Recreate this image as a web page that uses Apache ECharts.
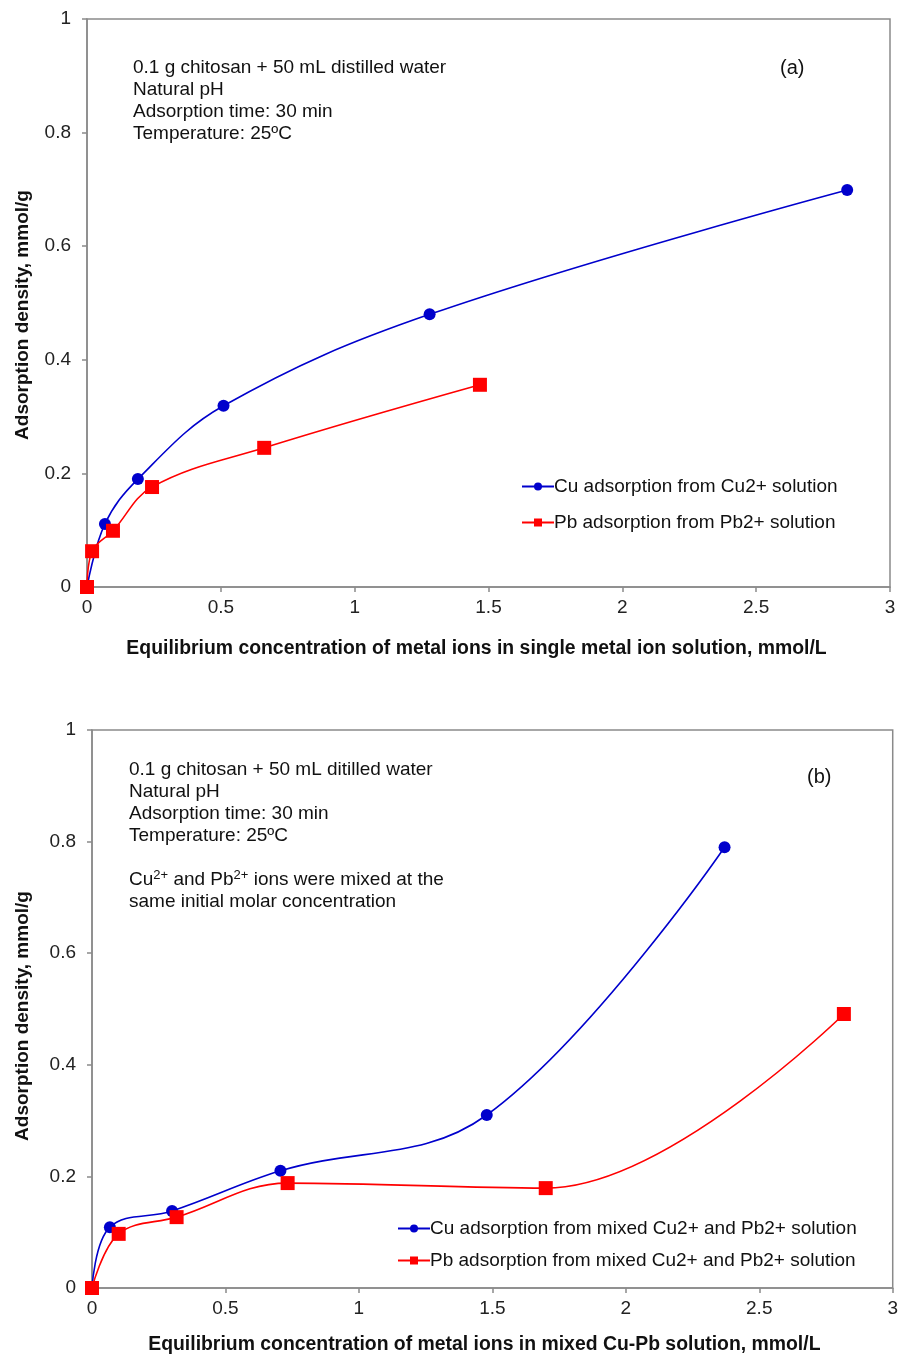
<!DOCTYPE html>
<html>
<head>
<meta charset="utf-8">
<script src="https://cdn.jsdelivr.net/npm/echarts@6/dist/echarts.min.js"></script>
<style>
  html, body { margin: 0; padding: 0; background: #fff; }
  #chart { width: 901px; height: 1356px; }
</style>
</head>
<body>
<div id="chart"></div>
<script>
// (a) single-metal solutions: equilibrium concentration (mmol/L) vs adsorption density (mmol/g)
const cuSingleX = [0, 0.067, 0.19, 0.51, 1.28, 2.84];
const cuSingleY = [0, 0.111, 0.19, 0.319, 0.48, 0.699];
const pbSingleX = [0, 0.019, 0.097, 0.243, 0.662, 1.468];
const pbSingleY = [0, 0.063, 0.099, 0.176, 0.245, 0.356];

// (b) mixed Cu-Pb solution
const cuMixedX = [0, 0.067, 0.30, 0.706, 1.479, 2.37];
const cuMixedY = [0, 0.109, 0.138, 0.21, 0.31, 0.79];
const pbMixedX = [0, 0.10, 0.317, 0.733, 1.70, 2.817];
const pbMixedY = [0, 0.097, 0.127, 0.188, 0.179, 0.491];

const xTicks = { min: 0, max: 3, interval: 0.5 };
const yTicks = { min: 0, max: 1, interval: 0.2 };

const seriesNames = {
  cuSingle: 'Cu adsorption from Cu2+ solution',
  pbSingle: 'Pb adsorption from Pb2+ solution',
  cuMixed: 'Cu adsorption from mixed Cu2+ and Pb2+ solution',
  pbMixed: 'Pb adsorption from mixed Cu2+ and Pb2+ solution'
};

const FONT = '"Liberation Sans", Arial, sans-serif';
const AXIS_GRAY = '#8a8a8a';
const BLUE = '#0000cc';
const RED = '#ff0000';
const SMOOTH = 0.38;

function pairs(xs, ys) { return xs.map((x, i) => [x, ys[i]]); }

function xAxisFor(gridIndex, title, gap, shiftLeft) {
  return {
    type: 'value', gridIndex,
    min: xTicks.min, max: xTicks.max, interval: xTicks.interval,
    name: title, nameLocation: 'middle', nameGap: gap,
    nameTextStyle: { fontFamily: FONT, fontSize: 19.4, fontWeight: 'bold', color: '#111', padding: [0, shiftLeft * 2, 0, 0] },
    axisLine: { show: true, lineStyle: { color: AXIS_GRAY, width: 1.5 } },
    axisTick: { show: true, inside: false, length: 5, lineStyle: { color: AXIS_GRAY, width: 1.5 } },
    axisLabel: { fontFamily: FONT, fontSize: 19, color: '#222', margin: 11 },
    splitLine: { show: false }
  };
}

function yAxisFor(gridIndex, gap, shiftDown) {
  return {
    type: 'value', gridIndex,
    min: yTicks.min, max: yTicks.max, interval: yTicks.interval,
    name: 'Adsorption density, mmol/g', nameLocation: 'middle', nameGap: gap, nameRotate: 90,
    nameTextStyle: { fontFamily: FONT, fontSize: 19, fontWeight: 'bold', color: '#111', padding: [0, shiftDown * 2, 0, 0] },
    axisLine: { show: true, lineStyle: { color: AXIS_GRAY, width: 1.5 } },
    axisTick: { show: true, inside: false, length: 5, lineStyle: { color: AXIS_GRAY, width: 1.5 } },
    axisLabel: { fontFamily: FONT, fontSize: 19, color: '#222', margin: 16 },
    splitLine: { show: false }
  };
}

function lineSeries(name, data, idx, color, symbol, size) {
  return {
    name, type: 'line', xAxisIndex: idx, yAxisIndex: idx,
    data, smooth: SMOOTH, symbol, symbolSize: size, showSymbol: true,
    lineStyle: { color, width: 1.6 },
    itemStyle: { color },
    emphasis: { disabled: true },
    animation: false, z: symbol === 'rect' ? 4 : 3
  };
}

function legendFor(names, left, top, gap) {
  return {
    left, top, orient: 'vertical', itemGap: gap,
    itemWidth: 32, itemHeight: 10,
    textStyle: { fontFamily: FONT, fontSize: 19, color: '#111', padding: [0, 0, 0, -5] },
    data: names.map(n => ({ name: n }))
  };
}

function note(lines, left, top, lh) {
  return {
    type: 'text', left, top,
    style: {
      text: lines.join('\n'), fontFamily: FONT, fontSize: 19, lineHeight: lh, fill: '#111',
      rich: {
        sup: { fontFamily: FONT, fontSize: 13, verticalAlign: 'top', lineHeight: lh, fill: '#111', padding: [0, 0, 8, 0] }
      }
    }
  };
}

const chart = echarts.init(document.getElementById('chart'), null, { renderer: 'canvas' });

chart.setOption({
  backgroundColor: '#fff',
  animation: false,
  grid: [
    { left: 87, top: 19, width: 803, height: 568, show: true, borderColor: AXIS_GRAY, borderWidth: 1.5, containLabel: false },
    { left: 92, top: 730, width: 803, height: 558, show: true, borderColor: AXIS_GRAY, borderWidth: 1.5, containLabel: false }
  ],
  xAxis: [
    xAxisFor(0, 'Equilibrium concentration of metal ions in single metal ion solution, mmol/L', 52, 12),
    xAxisFor(1, 'Equilibrium concentration of metal ions in mixed Cu-Pb solution, mmol/L', 47, 8)
  ],
  yAxis: [yAxisFor(0, 55, 12), yAxisFor(1, 60, 7)],
  legend: [
    legendFor([seriesNames.cuSingle, seriesNames.pbSingle], 516, 472, 17),
    legendFor([seriesNames.cuMixed, seriesNames.pbMixed], 392, 1214, 13)
  ],
  series: [
    lineSeries(seriesNames.cuSingle, pairs(cuSingleX, cuSingleY), 0, BLUE, 'circle', 12),
    lineSeries(seriesNames.pbSingle, pairs(pbSingleX, pbSingleY), 0, RED, 'rect', 14),
    lineSeries(seriesNames.cuMixed, pairs(cuMixedX, cuMixedY), 1, BLUE, 'circle', 12),
    lineSeries(seriesNames.pbMixed, pairs(pbMixedX, pbMixedY), 1, RED, 'rect', 14)
  ],
  graphic: [
    note(['0.1 g chitosan + 50 mL distilled water', 'Natural pH', 'Adsorption time: 30 min', 'Temperature: 25ºC'], 133, 57, 22),
    { type: 'text', left: 780, top: 58, style: { text: '(a)', fontFamily: FONT, fontSize: 20, fill: '#111' } },
    note(['0.1 g chitosan + 50 mL ditilled water', 'Natural pH', 'Adsorption time: 30 min', 'Temperature: 25ºC', '',
          'Cu{sup|2+} and Pb{sup|2+} ions were mixed at the', 'same initial molar concentration'], 129, 759, 22),
    { type: 'text', left: 807, top: 767, style: { text: '(b)', fontFamily: FONT, fontSize: 20, fill: '#111' } }
  ]
});
</script>
</body>
</html>
